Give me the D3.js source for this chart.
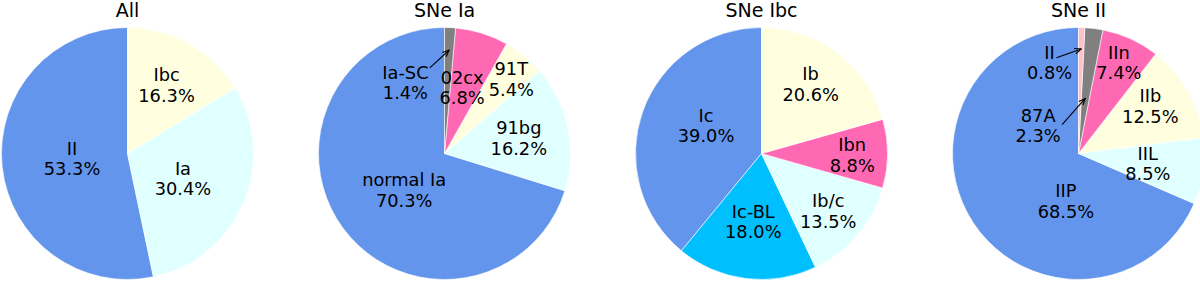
<!DOCTYPE html>
<html>
<head>
<meta charset="utf-8">
<script src="https://cdn.jsdelivr.net/npm/d3@7"></script>
<style>
  body { margin: 0; background: #fff; }
  text { font-family: "DejaVu Sans", sans-serif; fill: #000; }
</style>
</head>
<body>
<div id="chart"></div>
<script>
// pie titles
var titles = ['All', 'SNe Ia', 'SNe Ibc', 'SNe II'];

// slice names and percentages, counter-clockwise from the top
var allNames = ['II', 'Ia', 'Ibc'],
    allValues = [53.3, 30.4, 16.3];
var iaNames = ['normal Ia', '91bg', '91T', '02cx', 'Ia-SC'],
    iaValues = [70.3, 16.2, 5.4, 6.8, 1.4];
var ibcNames = ['Ic', 'Ic-BL', 'Ib/c', 'Ibn', 'Ib'],
    ibcValues = [39.0, 18.0, 13.5, 8.8, 20.6];
var iiNames = ['IIP', 'IIL', 'IIb', 'IIn', '87A', 'II'],
    iiValues = [68.5, 8.5, 12.5, 7.4, 2.3, 0.8];

var allColors = ['cornflowerblue', 'lightcyan', 'lightyellow'],
    iaColors = ['cornflowerblue', 'lightcyan', 'lightyellow', 'hotpink', 'grey'],
    ibcColors = ['cornflowerblue', 'deepskyblue', 'lightcyan', 'hotpink', 'lightyellow'],
    iiColors = ['cornflowerblue', 'lightcyan', 'lightyellow', 'hotpink', 'grey', 'pink'];

// label centres, in units of the radius
var allLabelPos = [[-0.44, 0.04], [0.44, 0.20], [0.31, -0.54]],
    iaLabelPos = [[-0.32, 0.29], [0.59, -0.12], [0.53, -0.59], [0.14, -0.52], [-0.31, -0.56]],
    ibcLabelPos = [[-0.44, -0.22], [-0.065, 0.54], [0.53, 0.46], [0.72, 0.015], [0.39, -0.55]],
    iiLabelPos = [[-0.10, 0.38], [0.55, 0.08], [0.57, -0.375], [0.32, -0.72], [-0.32, -0.22], [-0.23, -0.72]];

// arrows for the thin slices: slice index, tail (radius units), head radius fraction
var iaArrows = [[4, [-0.117, -0.68], 0.82]],
    iiArrows = [[4, [-0.13, -0.23], 0.44], [5, [-0.175, -0.76], 0.83]];

var pies = [
  {names: allNames, values: allValues, colors: allColors, pos: allLabelPos, arrows: []},
  {names: iaNames, values: iaValues, colors: iaColors, pos: iaLabelPos, arrows: iaArrows},
  {names: ibcNames, values: ibcValues, colors: ibcColors, pos: ibcLabelPos, arrows: []},
  {names: iiNames, values: iiValues, colors: iiColors, pos: iiLabelPos, arrows: iiArrows}
];

var width = 1200, height = 282,
    radius = 126, cy = 153.5;

var svg = d3.select('#chart').append('svg')
    .attr('width', width)
    .attr('height', height);

svg.append('defs').append('marker')
    .attr('id', 'head')
    .attr('markerUnits', 'userSpaceOnUse')
    .attr('viewBox', '-8 -4 9 8')
    .attr('markerWidth', 9)
    .attr('markerHeight', 8)
    .attr('orient', 'auto')
    .append('path')
    .attr('d', 'M-6.5,-2.8L0,0L-6.5,2.8')
    .attr('fill', 'none')
    .attr('stroke', '#000')
    .attr('stroke-width', 1.1);

var cx = d3.scalePoint().domain(titles).range([127.5, 1078.5]);

var pie = d3.pie().sort(null).startAngle(0).endAngle(-2 * Math.PI);
var arc = d3.arc().innerRadius(0).outerRadius(radius);

pies.forEach(function(p, k){
  var g = svg.append('g')
      .attr('transform', 'translate(' + cx(titles[k]) + ',' + cy + ')');

  var slices = pie(p.values);

  g.selectAll('path.slice')
    .data(slices)
    .enter()
    .append('path')
    .attr('class', 'slice')
    .attr('d', arc)
    .attr('fill', function(d, i){ return p.colors[i]; })
    .attr('stroke', '#fff')
    .attr('stroke-width', 0.6);

  var labels = g.selectAll('text.label')
    .data(slices)
    .enter()
    .append('text')
    .attr('class', 'label')
    .attr('text-anchor', 'middle')
    .attr('font-size', '17.8px')
    .attr('transform', function(d, i){
      return 'translate(' + p.pos[i][0] * radius + ',' + p.pos[i][1] * radius + ')';
    });
  labels.append('tspan')
    .attr('x', 0).attr('y', -4)
    .text(function(d, i){ return p.names[i]; });
  labels.append('tspan')
    .attr('x', 0).attr('y', 16.5)
    .text(function(d){ return d.value.toFixed(1) + '%'; });

  p.arrows.forEach(function(a){
    var s = slices[a[0]],
        mid = (s.startAngle + s.endAngle) / 2,
        r = a[2] * radius;
    g.append('line')
      .attr('x1', a[1][0] * radius)
      .attr('y1', a[1][1] * radius)
      .attr('x2', Math.sin(mid) * r)
      .attr('y2', -Math.cos(mid) * r)
      .attr('stroke', '#000')
      .attr('stroke-width', 1.1)
      .attr('marker-end', 'url(#head)');
  });

  svg.append('text')
    .attr('x', cx(titles[k]))
    .attr('y', 17)
    .attr('text-anchor', 'middle')
    .attr('font-size', '19px')
    .text(titles[k]);
});
</script>
</body>
</html>
